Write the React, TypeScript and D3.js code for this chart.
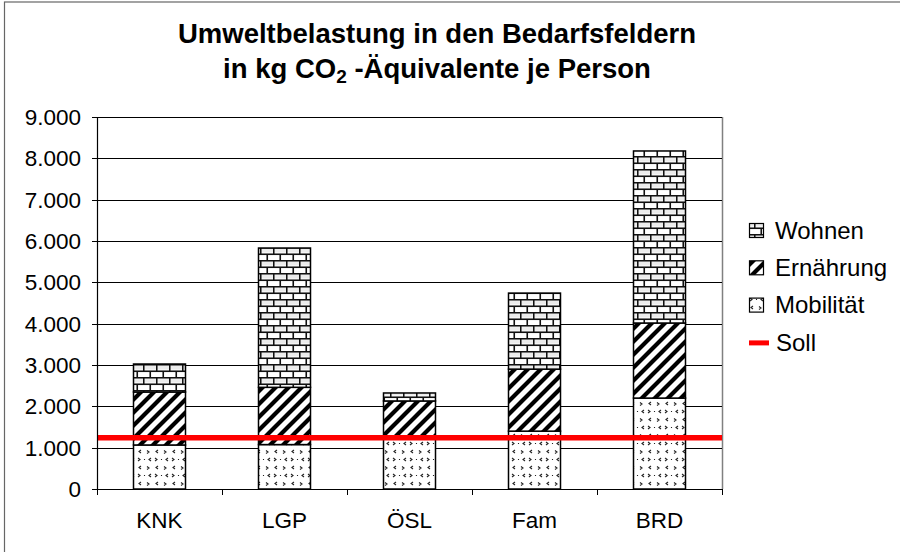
import React from "react";
import * as d3 from "d3";

const categories = ["KNK", "LGP", "ÖSL", "Fam", "BRD"];
const mobilitaet = [1065, 1075, 1230, 1400, 2200];
const ernaehrung = [1282, 1385, 900, 1500, 1816];
const wohnen = [677, 3370, 193, 1840, 4162];
const soll = 1240;
const yTickValues = [0, 1000, 2000, 3000, 4000, 5000, 6000, 7000, 8000, 9000];
const seriesKeys = ["Mobilität", "Ernährung", "Wohnen"];
const legendItems = ["Wohnen", "Ernährung", "Mobilität", "Soll"];

const W = 900;
const H = 552;
const FONT = "'Liberation Sans', Arial, Helvetica, sans-serif";

const locale = d3.formatLocale({ decimal: ",", thousands: ".", grouping: [3], currency: ["", "€"] });
const fmt = locale.format(",");

const patternId: Record<string, string> = {
  Wohnen: "pat-brick",
  Ernährung: "pat-diag",
  Mobilität: "pat-conf",
};

export default function App() {
  const x = d3
    .scaleBand<string>()
    .domain(categories)
    .range([97, 722])
    .paddingInner(0.584)
    .paddingOuter(0.292);
  const xSlot = d3.scaleBand<string>().domain(categories).range([97, 722]).padding(0);
  const y = d3.scaleLinear().domain([0, 9000]).range([489, 117]);

  const rows = categories.map((c, i) => ({
    cat: c,
    "Mobilität": mobilitaet[i],
    "Ernährung": ernaehrung[i],
    "Wohnen": wohnen[i],
  }));
  const stacked = d3.stack<any>().keys(seriesKeys)(rows);

  const [x0, x1] = x.range();
  const slotEdges = [...categories.map((c) => xSlot(c) as number), x1];

  return (
    <svg
      width={W}
      height={H}
      style={{ position: "absolute", left: 0, top: 0, background: "#fff" }}
      fontFamily={FONT}
    >
      <defs>
        <pattern id="pat-brick" patternUnits="userSpaceOnUse" width={13} height={13}>
          <rect width={13} height={13} fill="#fff" />
          <rect x={1} y={1.5} width={12} height={4} fill="#e0e0e0" opacity={0.6} />
          <line x1={0} x2={13} y1={0.75} y2={0.75} stroke="#111" strokeWidth={1.6} />
          <line x1={0} x2={13} y1={7.25} y2={7.25} stroke="#111" strokeWidth={1.6} />
          <line x1={0.75} x2={0.75} y1={0} y2={7.25} stroke="#111" strokeWidth={1.6} />
          <line x1={7.25} x2={7.25} y1={7.25} y2={13} stroke="#111" strokeWidth={1.6} />
        </pattern>
        <pattern id="pat-diag" patternUnits="userSpaceOnUse" width={13} height={13}>
          <rect width={13} height={13} fill="#fff" />
          <path d="M-4,17 L17,-4 M-4,4 L4,-4 M9,17 L17,9" stroke="#000" strokeWidth={4.2} />
        </pattern>
        <pattern id="pat-conf" patternUnits="userSpaceOnUse" width={17} height={16}>
          <rect width={17} height={16} fill="#fff" />
          <g stroke="#222" strokeWidth={1.1} fill="none">
            <path d="M5,2 L3,3.5 L5,5" />
            <path d="M11,2.5 L13,4 L11,5.5" />
            <path d="M2,10 L4,11.5 L2,13" />
            <path d="M15,10 L13,11.5 L15,13" />
            <path d="M8.5,11 L8.5,12" />
          </g>
        </pattern>
      </defs>

      {/* outer chart frame */}
      <rect x={4.5} y={2} width={W + 10} height={H + 10} fill="none" stroke="#666" strokeWidth={1.2} />

      {/* title */}
      <text x={437} y={43} textAnchor="middle" fontSize={27.5} fontWeight="bold" fill="#000">
        Umweltbelastung in den Bedarfsfeldern
      </text>
      <text x={437} y={78} textAnchor="middle" fontSize={27.5} fontWeight="bold" fill="#000">
        in kg CO
        <tspan fontSize={19} dy={5}>2</tspan>
        <tspan dy={-5}> -Äquivalente je Person</tspan>
      </text>

      {/* plot area border (right) */}
      <line x1={x1 + 0.5} x2={x1 + 0.5} y1={y(9000)} y2={y(0)} stroke="#808080" strokeWidth={1.5} />

      {/* gridlines */}
      {yTickValues.map((v) => (
        <line
          key={"g" + v}
          x1={x0}
          x2={x1}
          y1={Math.round(y(v)) + 0.5}
          y2={Math.round(y(v)) + 0.5}
          stroke="#000"
          strokeWidth={1}
        />
      ))}

      {/* bars */}
      {stacked.map((s) => (
        <g key={s.key}>
          {s.map((d, i) => (
            <rect
              key={categories[i]}
              x={x(categories[i])}
              y={y(d[1])}
              width={x.bandwidth()}
              height={y(d[0]) - y(d[1])}
              fill={`url(#${patternId[s.key]})`}
              stroke="#000"
              strokeWidth={1.5}
            />
          ))}
        </g>
      ))}

      {/* Soll line */}
      <line x1={x0} x2={x1} y1={y(soll)} y2={y(soll)} stroke="#ff0000" strokeWidth={5.5} />

      {/* y axis */}
      <line x1={x0 + 0.5} x2={x0 + 0.5} y1={y(9000)} y2={y(0)} stroke="#000" strokeWidth={1.2} />
      {yTickValues.map((v) => (
        <g key={"t" + v}>
          <line
            x1={x0 - 5}
            x2={x0}
            y1={Math.round(y(v)) + 0.5}
            y2={Math.round(y(v)) + 0.5}
            stroke="#000"
            strokeWidth={1}
          />
          <text x={81} y={y(v)} dy="0.36em" textAnchor="end" fontSize={22.5} fill="#000">
            {fmt(v)}
          </text>
        </g>
      ))}

      {/* x axis */}
      <line x1={x0} x2={x1} y1={y(0) + 0.5} y2={y(0) + 0.5} stroke="#000" strokeWidth={1.2} />
      {slotEdges.map((e, i) => (
        <line key={"xt" + i} x1={e + 0.5} x2={e + 0.5} y1={y(0)} y2={y(0) + 6} stroke="#000" strokeWidth={1} />
      ))}
      {categories.map((c) => (
        <text
          key={"xl" + c}
          x={(xSlot(c) as number) + xSlot.bandwidth() / 2}
          y={528}
          textAnchor="middle"
          fontSize={22.5}
          fill="#000"
        >
          {c}
        </text>
      ))}

      {/* legend */}
      {legendItems.map((name, i) => {
        const cy = 230 + i * 37.3;
        return (
          <g key={"lg" + name}>
            {name === "Soll" ? (
              <line x1={749} x2={769} y1={cy + 1} y2={cy + 1} stroke="#ff0000" strokeWidth={5} />
            ) : (
              <rect
                x={749.5}
                y={cy - 6.5}
                width={14}
                height={14}
                fill={`url(#${patternId[name]})`}
                stroke="#000"
                strokeWidth={1.2}
              />
            )}
            <text x={name === "Soll" ? 776 : 775} y={cy} dy="0.36em" fontSize={24} fill="#000">
              {name}
            </text>
          </g>
        );
      })}
    </svg>
  );
}
